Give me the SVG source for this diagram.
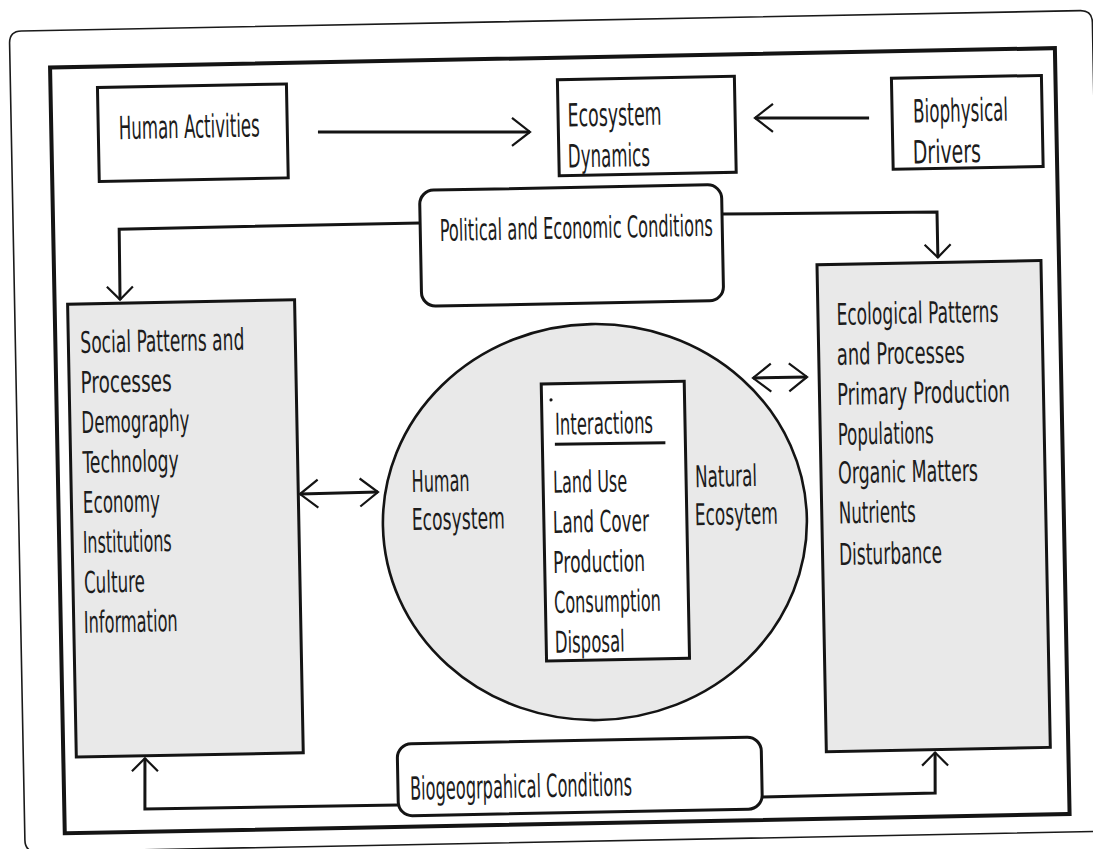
<svg xmlns="http://www.w3.org/2000/svg" width="1093" height="849" viewBox="0 0 1093 849">
<style>
  .t { font-family: "DejaVu Sans Condensed", "DejaVu Sans", "Liberation Sans", sans-serif; font-size: 30px; fill: #1c1c1c; }
  .big { font-size: 32px; }
  .box { fill: #ffffff; stroke: #141414; stroke-width: 3; }
  .gray { fill: #e9e9e9; stroke: #141414; stroke-width: 3; }
  .conn { fill: none; stroke: #141414; stroke-width: 3; stroke-linejoin: miter; }
</style>
<defs>
  <marker id="ah" markerUnits="userSpaceOnUse" markerWidth="26" markerHeight="32" viewBox="0 0 26 32" refX="21" refY="16" orient="auto-start-reverse">
    <path d="M3,2 L21,16 L3,30" fill="none" stroke="#141414" stroke-width="2.2"/>
  </marker>
  <marker id="ahs" markerUnits="userSpaceOnUse" markerWidth="20" markerHeight="30" viewBox="0 0 20 30" refX="16" refY="15" orient="auto-start-reverse">
    <path d="M3,2 L16,15 L3,28" fill="none" stroke="#141414" stroke-width="2.2"/>
  </marker>
</defs>
<rect width="1093" height="849" fill="#ffffff"/>
<g transform="rotate(-1.1 546 424)">
  <g id="frames">
    <path d="M29,21 H1088 Q1100,21 1100,33 V842 H29 Q17,842 17,830 V33 Q17,21 29,21 Z" fill="none" stroke="#1a1a1a" stroke-width="1.6"/>
    <rect x="57" y="58" width="1005" height="766" fill="none" stroke="#141414" stroke-width="4"/>
  </g>

  <g id="human-activities">
    <rect class="box" x="104" y="79" width="189" height="94"/>
    <text class="t big" x="124.5" y="131" textLength="141" lengthAdjust="spacingAndGlyphs">Human Activities</text>
  </g>

  <g id="ecosystem-dynamics">
    <rect class="box" x="564" y="80" width="177" height="96"/>
    <text class="t big" x="573.5" y="127" textLength="94" lengthAdjust="spacingAndGlyphs">Ecosystem</text>
    <text class="t big" x="573" y="168" textLength="82" lengthAdjust="spacingAndGlyphs">Dynamics</text>
  </g>

  <g id="biophysical-drivers">
    <rect class="box" x="898" y="85" width="150" height="91"/>
    <text class="t big" x="919" y="129.5" textLength="95" lengthAdjust="spacingAndGlyphs">Biophysical</text>
    <text class="t big" x="918" y="170.5" textLength="68" lengthAdjust="spacingAndGlyphs">Drivers</text>
  </g>

  <g id="political-economic">
    <rect class="box" x="424" y="188" width="302" height="116" rx="14"/>
    <text class="t" x="443.5" y="239" textLength="273" lengthAdjust="spacingAndGlyphs">Political and Economic Conditions</text>
  </g>

  <g id="social-patterns">
    <rect class="gray" x="70" y="295" width="227" height="453"/>
    <text class="t" x="82" y="344" textLength="164" lengthAdjust="spacingAndGlyphs">Social Patterns and</text>
    <text class="t" x="81.5" y="384" textLength="91" lengthAdjust="spacingAndGlyphs">Processes</text>
    <text class="t" x="81.5" y="424" textLength="108" lengthAdjust="spacingAndGlyphs">Demography</text>
    <text class="t" x="82" y="464" textLength="96" lengthAdjust="spacingAndGlyphs">Technology</text>
    <text class="t" x="81.5" y="504" textLength="77" lengthAdjust="spacingAndGlyphs">Economy</text>
    <text class="t" x="80.5" y="544" textLength="89" lengthAdjust="spacingAndGlyphs">Institutions</text>
    <text class="t" x="81" y="584" textLength="61" lengthAdjust="spacingAndGlyphs">Culture</text>
    <text class="t" x="80" y="624" textLength="94" lengthAdjust="spacingAndGlyphs">Information</text>
  </g>

  <g id="ecological-patterns">
    <rect class="gray" x="820" y="270" width="224" height="487"/>
    <text class="t" x="838.5" y="330.5" textLength="162" lengthAdjust="spacingAndGlyphs">Ecological Patterns</text>
    <text class="t" x="838" y="370.5" textLength="128" lengthAdjust="spacingAndGlyphs">and Processes</text>
    <text class="t" x="837.5" y="410.5" textLength="173" lengthAdjust="spacingAndGlyphs">Primary Production</text>
    <text class="t" x="837.5" y="450.5" textLength="96" lengthAdjust="spacingAndGlyphs">Populations</text>
    <text class="t" x="837" y="489" textLength="140" lengthAdjust="spacingAndGlyphs">Organic Matters</text>
    <text class="t" x="837" y="529" textLength="77" lengthAdjust="spacingAndGlyphs">Nutrients</text>
    <text class="t" x="836.5" y="570.5" textLength="103" lengthAdjust="spacingAndGlyphs">Disturbance</text>
  </g>

  <g id="ecosystem-circle">
    <ellipse cx="593" cy="523" rx="212" ry="198" fill="#e9e9e9" stroke="#141414" stroke-width="2.6"/>
    <text class="t" x="410.5" y="489.5" textLength="58" lengthAdjust="spacingAndGlyphs">Human</text>
    <text class="t" x="410" y="527.5" textLength="93" lengthAdjust="spacingAndGlyphs">Ecosystem</text>
    <text class="t" x="694" y="490" textLength="62" lengthAdjust="spacingAndGlyphs">Natural</text>
    <text class="t" x="693" y="528" textLength="83" lengthAdjust="spacingAndGlyphs">Ecosytem</text>
  </g>

  <g id="interactions">
    <rect class="box" x="542" y="384" width="143" height="277"/>
    <circle cx="551.5" cy="400" r="1.6" fill="#141414"/>
    <text class="t" x="555" y="435" textLength="98" lengthAdjust="spacingAndGlyphs">Interactions</text>
    <line x1="554.5" y1="444.5" x2="665" y2="445" stroke="#141414" stroke-width="3"/>
    <text class="t" x="552" y="493" textLength="74" lengthAdjust="spacingAndGlyphs">Land Use</text>
    <text class="t" x="551" y="533" textLength="96" lengthAdjust="spacingAndGlyphs">Land Cover</text>
    <text class="t" x="550.5" y="573" textLength="92" lengthAdjust="spacingAndGlyphs">Production</text>
    <text class="t" x="550.5" y="613" textLength="107" lengthAdjust="spacingAndGlyphs">Consumption</text>
    <text class="t" x="550.5" y="653" textLength="70" lengthAdjust="spacingAndGlyphs">Disposal</text>
  </g>

  <g id="biogeographical">
    <rect class="box" x="391" y="741" width="364" height="72" rx="14"/>
    <text class="t big" x="403" y="797" textLength="222" lengthAdjust="spacingAndGlyphs">Biogeogrpahical Conditions</text>
  </g>

  <g id="connectors">
    <line class="conn" x1="323.6" y1="127.6" x2="535.6" y2="131.7" marker-end="url(#ah)"/>
    <line class="conn" x1="874.9" y1="124.2" x2="760.8" y2="122" marker-end="url(#ah)"/>
    <polyline class="conn" points="424,220.5 123,221 122.5,291.5" marker-end="url(#ahs)"/>
    <polyline class="conn" points="726,217.5 941,219.5 941,265" marker-end="url(#ahs)"/>
    <line class="conn" x1="298.7" y1="489.3" x2="376.7" y2="488.8" marker-start="url(#ah)" marker-end="url(#ah)"/>
    <line class="conn" x1="753.9" y1="382" x2="807.9" y2="382" marker-start="url(#ah)" marker-end="url(#ah)"/>
    <polyline class="conn" points="391,802 137.6,801.3 138.6,750.5" marker-end="url(#ahs)"/>
    <polyline class="conn" points="755,801 928,800.5 928.7,760" marker-end="url(#ahs)"/>
  </g>
</g>
</svg>
